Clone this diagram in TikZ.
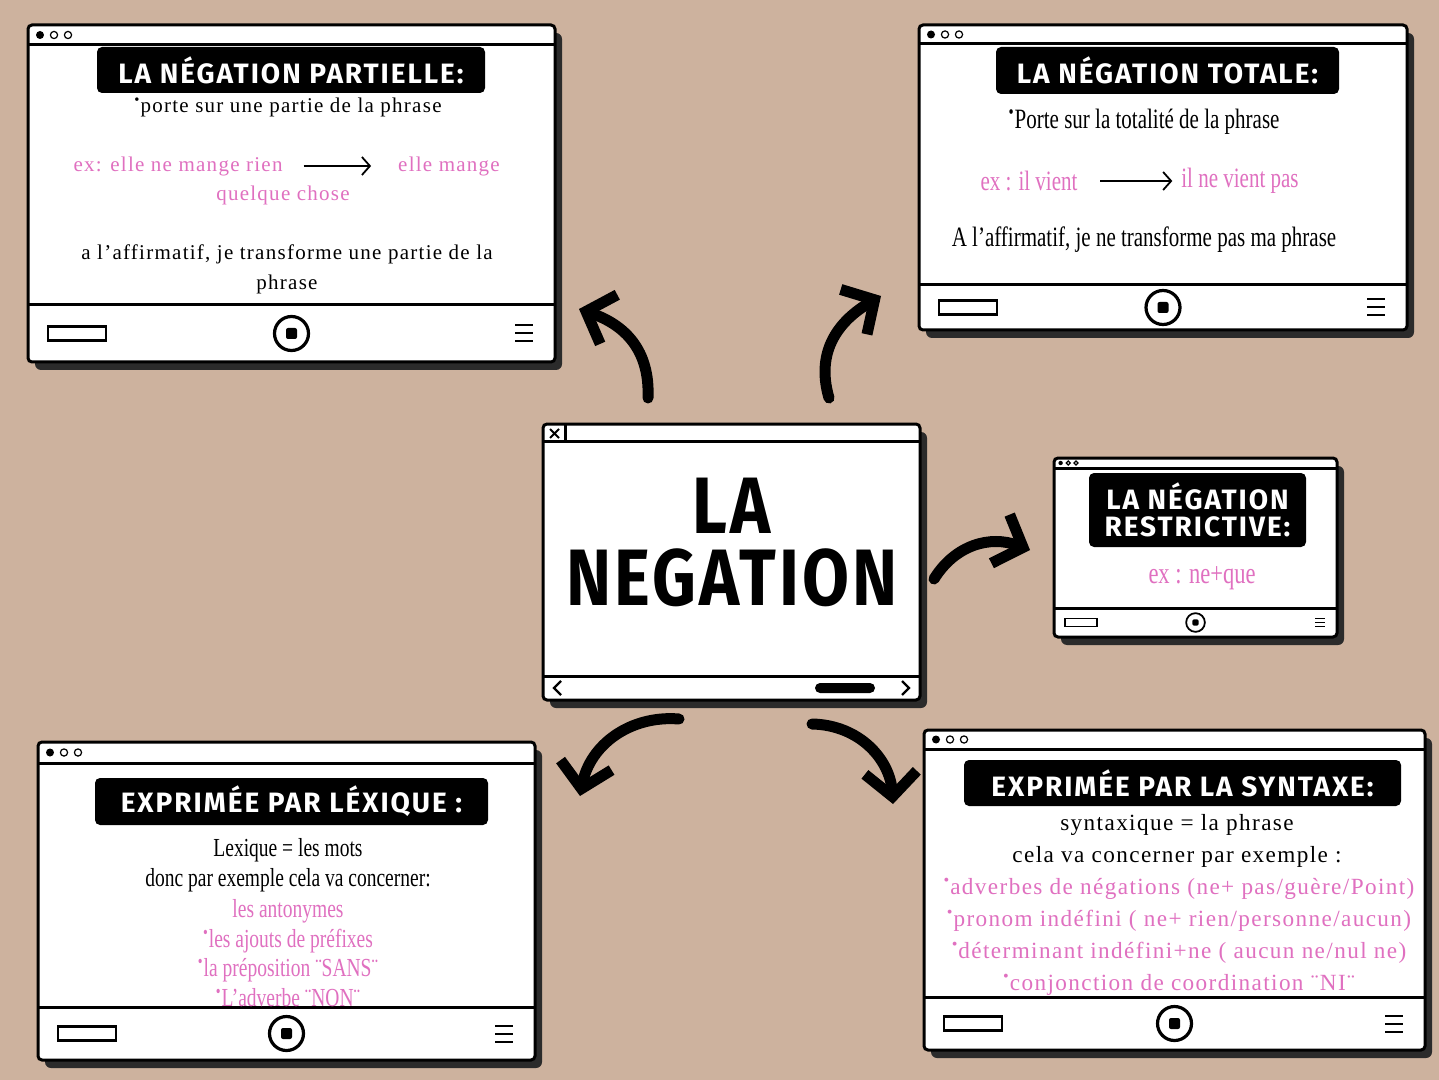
\documentclass[tikz,border=0pt]{standalone}
\usepackage{fontspec}
\setmainfont{Liberation Serif}
\newfontfamily\widefont[LetterSpace=6]{Liberation Serif}
\newfontfamily\narrowfont[FakeStretch=0.75]{Liberation Serif}
\newfontfamily\titlefont[LetterSpace=7]{Fira Sans}
\newfontfamily\bigfont[FakeStretch=0.85,LetterSpace=4]{Fira Sans}
\usetikzlibrary{arrows.meta}
\usepackage{xcolor}
\definecolor{kraft}{HTML}{CDB29E}
\definecolor{pinktext}{HTML}{E070C0}
\definecolor{shadowgray}{HTML}{2B2B2B}

% window: name, x1, y1, x2, y2, bar y, footer y, icon scale
\newcommand{\drawwindow}[8]{%
  \pgfmathsetmacro\winmx{(#2+#4)/2}
  \pgfmathsetmacro\winfy{(#7+#5)/2}
  \pgfmathsetmacro\windy{(#3+#6)/2}
  \fill[winshadow] (#2+7,#3+8) rectangle (#4+7,#5+8);
  \node[winframe, minimum width={(#4-#2)*0.5pt}, minimum height={(#5-#3)*0.5pt}] (#1) at (\winmx,{(#3+#5)/2}) {};
  \draw[winline] (#2,#6) -- (#4,#6);
  \draw[winline] (#2,#7) -- (#4,#7);
  \fill (#2+12*#8,\windy) circle[radius={2pt*#8}];
  \draw[line width=0.6pt] (#2+26*#8,\windy) circle[radius={1.8pt*#8}];
  \draw[line width=0.6pt] (#2+40*#8,\windy) circle[radius={1.8pt*#8}];
  \draw[line width={1.2pt*#8}] (#2+20*#8,\winfy-7*#8) rectangle (#2+78*#8,\winfy+7*#8);
  \draw[line width={1.6pt*#8}] (\winmx,\winfy) circle[radius={8.5pt*#8}];
  \fill[rounded corners={1pt*#8}] (\winmx-5.5*#8,\winfy-5.5*#8) rectangle (\winmx+5.5*#8,\winfy+5.5*#8);
  \draw[line width={1pt*#8}] (#4-40*#8,\winfy-8*#8) -- (#4-22*#8,\winfy-8*#8)
    (#4-40*#8,\winfy) -- (#4-22*#8,\winfy)
    (#4-40*#8,\winfy+8*#8) -- (#4-22*#8,\winfy+8*#8);
}

\begin{document}
\begin{tikzpicture}
    [x=0.5pt, y=-0.5pt,
     winframe/.style={shape=rectangle, draw=black, fill=white, line width=1.5pt, rounded corners=2pt, inner sep=0pt},
     winshadow/.style={fill=shadowgray, rounded corners=3pt},
     winline/.style={line width=1.5pt},
     titlebox/.style={shape=rectangle, fill=black, rounded corners=2.5pt, text=white, align=center,
       font=\titlefont\bfseries\fontsize{14}{13.5}\selectfont},
     bigtitle/.style={anchor=base, inner sep=0pt, text height=27.5pt, text depth=0pt,
       font=\bigfont\bfseries\fontsize{40}{40}\selectfont},
     bodywide/.style={align=center, font=\widefont\fontsize{10.5}{15}\selectfont},
     bodynarrow/.style={align=center, font=\narrowfont\fontsize{13}{14.75}\selectfont},
     pinkish/.style={text=pinktext},
     smallarrow/.style={-{Straight Barb[length=4pt,width=9pt]}, line width=0.9pt},
     bigarrow/.style={-{Straight Barb[length=12pt,width=26pt]}, line width=5.5pt, line cap=round},
    ]

\fill[kraft] (0,0) rectangle (1439,1080);
\useasboundingbox (0,0) rectangle (1439,1080);

% partielle
\drawwindow{partielle}{28}{25}{555}{362}{45}{305}{1}
\node[titlebox, minimum width=194pt, minimum height=23pt] (partielle-title) at (291,70) {LA NÉGATION PARTIELLE:};
\node[bodywide] (partielle-def) at (288,107) {\textsuperscript{•}porte sur une partie de la phrase};
\node[bodywide, pinkish] (partielle-ex) at (178,166) {ex: elle ne mange rien};
\node[bodywide, pinkish] (partielle-res) at (449,166) {elle mange};
\node[bodywide, pinkish] (partielle-res2) at (283,195) {quelque chose};
\node[bodywide] (partielle-aff) at (287,269) {a l’affirmatif, je transforme une partie de la\\phrase};
\draw[smallarrow, shorten <=7pt, shorten >=10pt] (partielle-ex) -- (partielle-res);

% totale
\drawwindow{totale}{919}{25}{1407}{330}{44}{285}{1}
\node[titlebox, minimum width=171.5pt, minimum height=23.5pt] (totale-title) at (1167.5,70.5) {LA NÉGATION TOTALE:};
\node[bodynarrow, font=\narrowfont\fontsize{14}{15}\selectfont] (totale-def) at (1144,122) {\textsuperscript{•}Porte sur la totalité de la phrase};
\node[bodynarrow, pinkish, font=\narrowfont\fontsize{14}{15}\selectfont] (totale-ex) at (1029,181) {ex : il vient};
\node[bodynarrow, pinkish, font=\narrowfont\fontsize{14}{15}\selectfont] (totale-res) at (1240,181) {il ne vient pas};
\node[bodynarrow, font=\narrowfont\fontsize{14}{15}\selectfont] (totale-aff) at (1144,240) {A l’affirmatif, je ne transforme pas ma phrase};
\draw[smallarrow, shorten <=8pt, shorten >=1pt] (totale-ex) -- (totale-res);

% restrictive
\drawwindow{restrictive}{1054}{458}{1337}{637}{468}{608}{0.55}
\node[titlebox, minimum width=108.5pt, minimum height=37pt] (restrictive-title) at (1197.5,510) {LA NÉGATION\\RESTRICTIVE:};
\node[bodynarrow, pinkish, font=\narrowfont\fontsize{15}{16}\selectfont] (restrictive-ex) at (1202,578) {ex : ne+que};

% lexique
\drawwindow{lexique}{38}{742}{535}{1060}{763}{1007}{1}
\node[titlebox, minimum width=196.5pt, minimum height=23.5pt] (lexique-title) at (291.5,801.5) {EXPRIMÉE PAR LÉXIQUE :};
\node[bodynarrow] (lexique-def) at (288,865) {Lexique = les mots\\donc par exemple cela va concerner:};
\node[bodynarrow, pinkish] (lexique-list) at (288,953) {les antonymes\\\textsuperscript{•}les ajouts de préfixes\\\textsuperscript{•}la préposition ¨SANS¨\\\textsuperscript{•}L’adverbe ¨NON¨};

% syntaxe
\drawwindow{syntaxe}{924}{730}{1425}{1050}{749}{997}{1}
\node[titlebox, minimum width=218.5pt, minimum height=23pt] (syntaxe-title) at (1182.5,783) {EXPRIMÉE PAR LA SYNTAXE:};
\node[bodywide, font=\widefont\fontsize{11.6}{16}\selectfont] (syntaxe-def) at (1177,841) {syntaxique = la phrase\\cela va concerner par exemple :};
\node[bodywide, pinkish, font=\widefont\fontsize{11.6}{16}\selectfont] (syntaxe-list) at (1179,937) {\textsuperscript{•}adverbes de négations (ne+ pas/guère/Point)\\\textsuperscript{•}pronom indéfini ( ne+ rien/personne/aucun)\\\textsuperscript{•}déterminant indéfini+ne ( aucun ne/nul ne)\\\textsuperscript{•}conjonction de coordination ¨NI¨};

% centre
\fill[winshadow] (550,432) rectangle (927,708);
\node[winframe, minimum width=188.5pt, minimum height=138pt] (negation) at (731.5,562) {};
\draw[winline] (543,441) -- (920,441);
\draw[winline] (565,424) -- (565,441);
\draw[line width=1pt] (550,429) -- (559,438) (550,438) -- (559,429);
\draw[winline] (543,676) -- (920,676);
\draw[line width=1.2pt] (561,681) -- (554,688) -- (561,695);
\draw[line width=1.2pt] (902,681) -- (909,688) -- (902,695);
\fill[rounded corners=2.5pt] (815,683) rectangle (875,693);
\node[bigtitle] (negation-la) at (732,533) {LA};
\node[bigtitle] (negation-text) at (732,605) {NEGATION};

% arrows
\coordinate (to-partielle-a) at (648,398);
\coordinate (to-partielle-b) at (579,309);
\coordinate (to-totale-a) at (829,398);
\coordinate (to-totale-b) at (881,296);
\coordinate (to-restrictive-a) at (934,579);
\coordinate (to-restrictive-b) at (1030,550);
\coordinate (to-lexique-a) at (679,719);
\coordinate (to-lexique-b) at (580,796);
\coordinate (to-syntaxe-a) at (812,724);
\coordinate (to-syntaxe-b) at (893,804);
\draw[bigarrow] (to-partielle-a) .. controls (650,350) and (625,325) .. (to-partielle-b);
\draw[bigarrow] (to-totale-a) .. controls (815,350) and (840,320) .. (to-totale-b);
\draw[bigarrow] (to-restrictive-a) .. controls (955,545) and (990,535) .. (to-restrictive-b);
\draw[bigarrow] (to-lexique-a) .. controls (630,715) and (590,745) .. (to-lexique-b);
\draw[bigarrow] (to-syntaxe-a) .. controls (860,725) and (890,760) .. (to-syntaxe-b);

\end{tikzpicture}
\end{document}
